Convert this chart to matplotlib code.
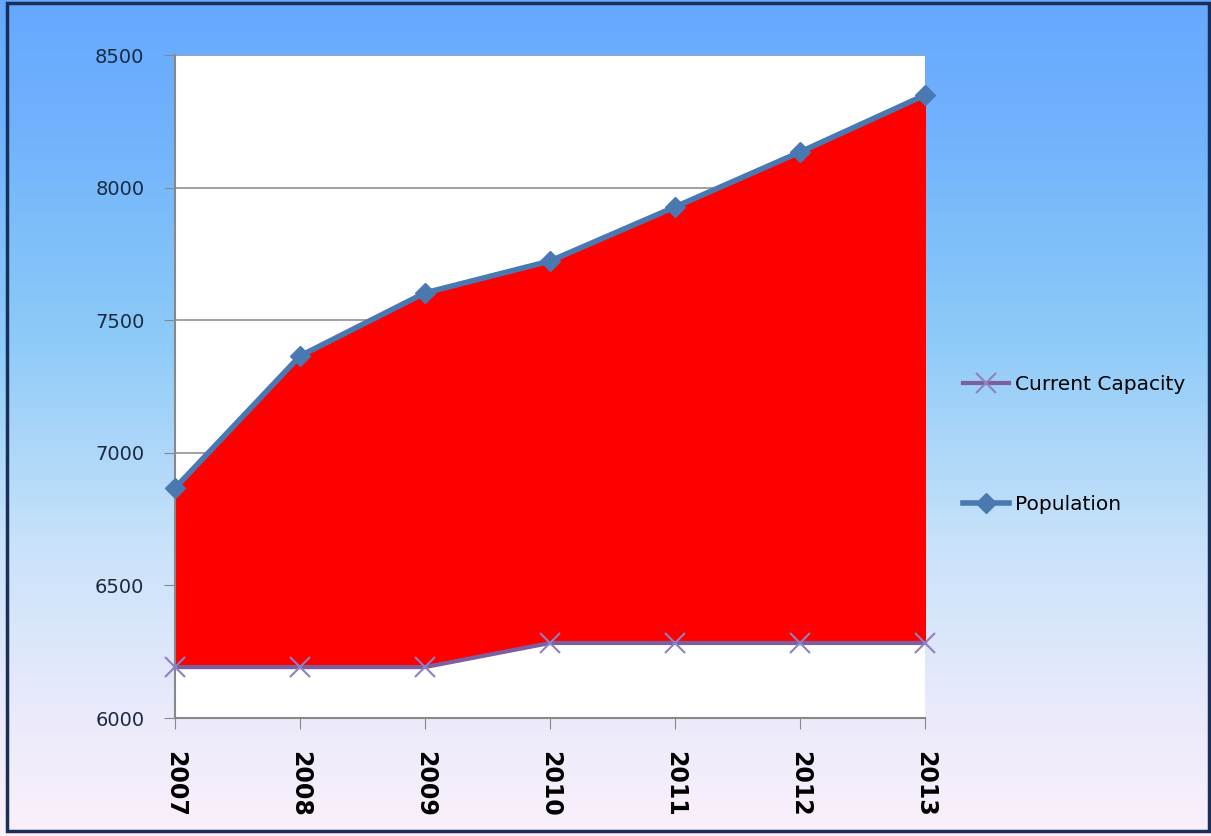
import numpy as np
import matplotlib.pyplot as plt
from matplotlib.colors import LinearSegmentedColormap
from matplotlib.patches import Rectangle

# data
years = ['2007', '2008', '2009', '2010', '2011', '2012', '2013']
population = [6867, 7365, 7603, 7723, 7927, 8134, 8349]
capacity = [6192, 6192, 6192, 6283, 6283, 6283, 6283]

fig = plt.figure(figsize=(12.11, 8.36), dpi=100)

# background gradient (blue at top fading to pinkish white)
bg = fig.add_axes([0, 0, 1, 1], zorder=-10)
cmap = LinearSegmentedColormap.from_list(
    'bg', [(0.0, '#fbf0fa'), (0.15, '#eaeafa'), (0.35, '#c8e2fa'),
           (0.6, '#8ccaf8'), (0.85, '#70b2fc'), (1.0, '#66a8ff')])
grad = np.linspace(0, 1, 256).reshape(-1, 1)
bg.imshow(grad, aspect='auto', cmap=cmap, origin='lower', extent=[0, 1, 0, 1])
bg.add_patch(Rectangle((0.006, 0.006), 0.992, 0.99, fill=False,
                       edgecolor='#1a2e5a', linewidth=2.5, transform=bg.transAxes))
bg.set_axis_off()

ax = fig.add_axes([0.1445, 0.1411, 0.6193, 0.7931])
x = np.arange(len(years))

ax.fill_between(x, capacity, population, color='#ff0000', zorder=2)
ax.plot(x, population, color='white', linestyle=(0, (2, 2)), linewidth=1, zorder=3)
ax.plot(x, capacity, color='white', linestyle=(0, (2, 2)), linewidth=1, zorder=3)

ax.plot(x, capacity, color='#7d5fa0', linewidth=3, marker='x', markersize=14,
        markeredgecolor='#9080c0', markeredgewidth=1.5, zorder=4,
        label='Current Capacity', clip_on=False)
ax.plot(x, population, color='#4a78b0', linewidth=4, marker='D', markersize=10,
        markerfacecolor='#4a78b0', markeredgecolor='#4a78b0', zorder=5,
        label='Population', clip_on=False)

ax.set_xlim(0, len(years) - 1)
ax.set_ylim(6000, 8500)
ax.set_yticks(np.arange(6000, 8501, 500))
ax.set_xticks(x)
ax.set_xticklabels(years, rotation=270, fontsize=17, fontweight='bold')
ax.tick_params(axis='y', labelsize=14, labelcolor='#1a2a40', direction='out',
               length=8, color='#888888', pad=14)
ax.tick_params(axis='x', direction='out', length=8, color='#888888', pad=16)
ax.yaxis.grid(True, color='#909090', linewidth=1.2, zorder=1)
ax.set_axisbelow(True)
ax.set_facecolor('white')
for s in ['top', 'right']:
    ax.spines[s].set_visible(False)
for s in ['left', 'bottom']:
    ax.spines[s].set_color('#888888')
    ax.spines[s].set_linewidth(1.5)

handles, labels = ax.get_legend_handles_labels()
fig.legend(handles, labels, loc='center left', bbox_to_anchor=(0.78, 0.468),
           frameon=False, fontsize=14.5, labelspacing=5.0, handlelength=2.3,
           handletextpad=0.3)

fig.savefig('out.png', dpi=100)
